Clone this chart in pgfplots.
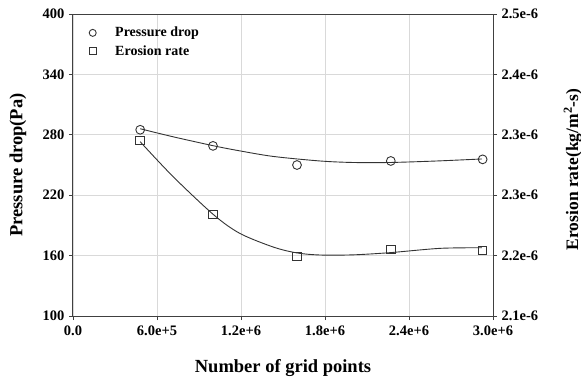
\documentclass[border=0pt]{standalone}
\usepackage{pgfplots}
\pgfplotsset{compat=1.18}
\usepackage{fontspec}
\setmainfont{Liberation Serif}
\definecolor{axgray}{HTML}{404040}
\definecolor{gridgray}{HTML}{D9D9D9}
\definecolor{curvegray}{HTML}{333333}
\begin{document}
\begin{tikzpicture}[font=\bfseries]
\useasboundingbox (0,0) rectangle (581pt,381pt);
\pgfplotsset{every axis/.append style={
  scale only axis, width=420pt, height=302pt,
  at={(73pt,65pt)}, anchor=south west,
  xmin=0, xmax=3000000,
  tick label style={font=\fontsize{14.5}{16}\selectfont\bfseries},
  label style={font=\fontsize{18.5}{20}\selectfont\bfseries},
  tick align=outside, major tick length=4pt,
  axis line style={axgray, line width=1pt},
  every tick/.style={axgray, line width=0.8pt},
}}
\begin{axis}[
  ymin=100, ymax=400,
  xtick={0,600000,1200000,1800000,2400000,3000000},
  xticklabels={0.0,6.0e+5,1.2e+6,1.8e+6,2.4e+6,3.0e+6},
  ytick={100,160,220,280,340,400},
  yticklabels={100,160,220,280,340,400},
  xtick pos=bottom, ytick pos=left,
  scaled x ticks=false,
  grid=major, grid style={gridgray, line width=0.7pt},
  xlabel={Number of grid points},
  ylabel={Pressure drop(Pa)},
  xlabel style={at={(axis description cs:0.5,-0.172)}, anchor=center},
  ylabel style={at={(axis description cs:-0.131,0.5)}, anchor=center},
  xticklabel style={yshift=-2pt},
  yticklabel style={xshift=-1pt},
]
\addplot[curvegray, line width=0.9pt, smooth, forget plot] coordinates {
 (480000,286) (716000,278) (1007000,269) (1193000,264) (1431000,258.5) (1764000,254) (2000000,252.5) (2264000,252.5) (2600000,254) (2921000,256)
};
\addplot[only marks, mark=o, mark size=4.4pt, mark options={curvegray, line width=0.9pt, fill=white}, forget plot] coordinates {
 (480000,285) (1000000,269) (1600000,250) (2270000,254) (2926000,255.6)
};
\end{axis}
\begin{axis}[
  axis y line*=right, axis x line=none,
  ymin=2.1, ymax=2.5,
  ytick={2.1,2.18,2.26,2.34,2.42,2.5},
  yticklabels={2.1e-6,2.2e-6,2.3e-6,2.3e-6,2.4e-6,2.5e-6},
  ylabel={Erosion rate(kg/m$^{\mathbf{2}}$-s)},
  ylabel style={at={(axis description cs:1.19,0.485)}, anchor=center, font=\fontsize{17.5}{19}\selectfont\bfseries},
  yticklabel style={xshift=1pt},
  legend style={draw=none, fill=none, at={(0.031,0.97)}, anchor=north west,
    font=\fontsize{14}{16}\selectfont\bfseries, row sep=3pt,
    /tikz/every odd column/.append style={column sep=17pt}},
  legend cell align=left,
]
\addlegendimage{only marks, mark=o, mark size=3.5pt, mark options={curvegray, line width=0.9pt}}
\addlegendentry{Pressure drop}
\addlegendimage{only marks, mark=square, mark size=3.3pt, mark options={curvegray, line width=0.9pt}}
\addlegendentry{Erosion rate}
\addplot[curvegray, line width=0.9pt, smooth, forget plot] coordinates {
 (480000,2.3308) (716000,2.2844) (1007000,2.2337) (1193000,2.2093) (1431000,2.1913) (1598000,2.1836) (1764000,2.1808) (2000000,2.1810) (2264000,2.1839) (2621000,2.1896) (2921000,2.1904)
};
\addplot[only marks, mark=square, mark size=4.3pt, mark options={curvegray, line width=0.9pt, fill=white}, forget plot] coordinates {
 (480000,2.3327) (1000000,2.2347) (1600000,2.1787) (2270000,2.1880) (2926000,2.1867)
};
\end{axis}
\end{tikzpicture}
\end{document}
